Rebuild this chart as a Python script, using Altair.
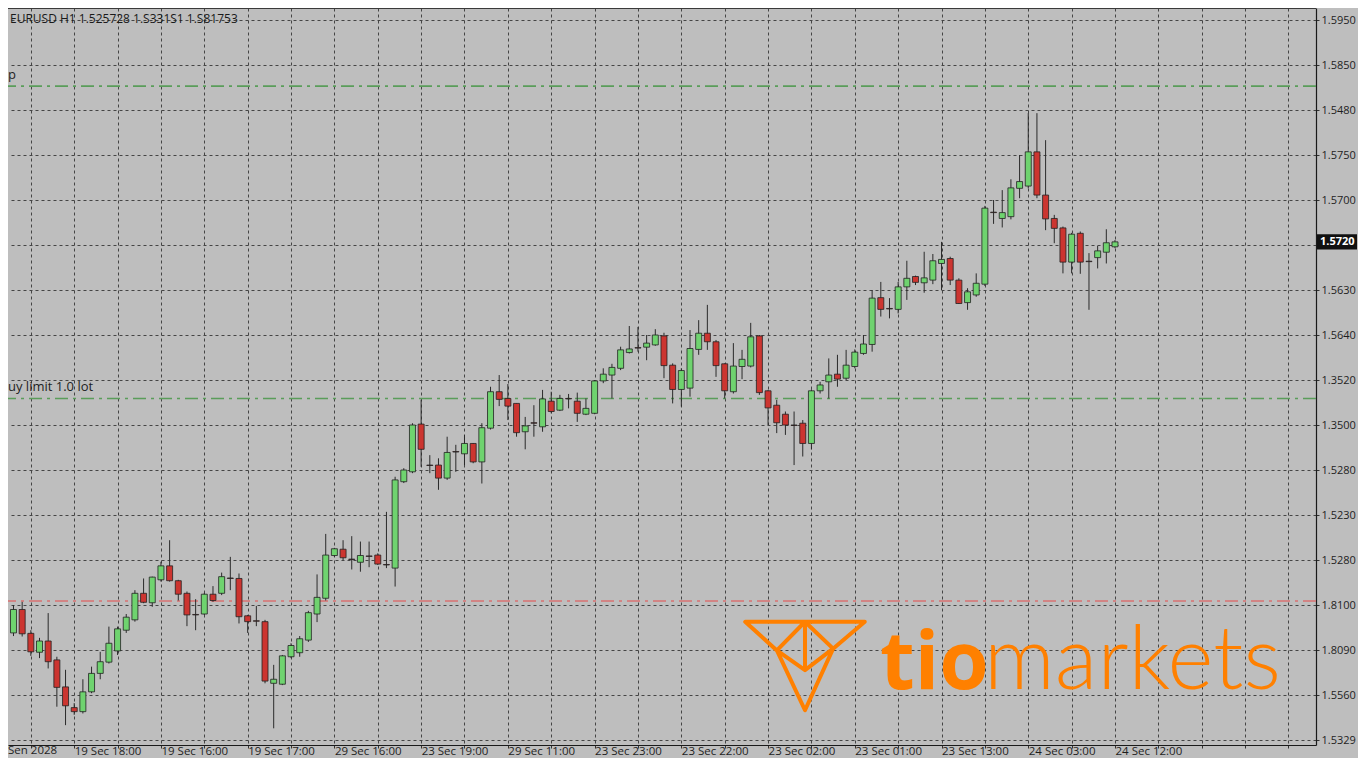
import json
import altair as alt
import pandas as pd

# ---- candle data (price levels in grid units) ----
open_ = [2.38, 2.90, 2.37, 1.95, 2.20, 1.78, 1.18, 0.72, 0.63, 1.07,
         1.48, 1.73, 1.98, 2.44, 2.67, 3.26, 3.05, 3.56, 3.87, 3.54,
         3.26, 2.79, 2.80, 3.24, 3.26, 3.60, 3.59, 2.76, 2.65, 2.63,
         1.26, 1.24, 1.85, 1.94, 2.22, 2.80, 3.15, 4.10, 4.24, 4.02,
         3.95, 4.09, 4.11, 3.90, 3.82, 5.74, 5.96, 7.02, 6.11, 6.11,
         5.82, 6.41, 6.36, 6.59, 6.18, 6.93, 7.74, 7.59, 7.48, 6.85,
         7.05, 6.96, 7.53, 7.33, 7.59, 7.53, 7.24, 7.26, 7.98, 8.11,
         8.26, 8.61, 8.72, 8.73, 8.78, 8.98, 8.33, 7.79, 7.82, 8.68,
         9.04, 8.85, 8.36, 7.74, 8.30, 8.31, 8.98, 7.76, 7.44, 7.24,
         7.00, 7.04, 6.59, 7.76, 7.96, 8.13, 8.04, 8.30, 8.59, 8.79,
         9.83, 9.59, 9.57, 10.07, 10.30, 10.16, 10.22, 10.59, 10.70, 10.22,
         9.72, 9.89, 10.13, 11.73, 11.59, 11.63, 12.26, 12.31, 13.07, 12.11,
         11.59, 11.38, 10.62, 11.26, 10.64, 10.72, 10.84, 10.96]
high = [3.00, 3.07, 2.44, 2.27, 2.82, 1.85, 1.56, 0.82, 1.35, 1.63,
        1.96, 2.52, 2.52, 2.80, 3.33, 3.59, 3.63, 3.96, 4.44, 3.56,
        3.30, 3.13, 3.27, 3.42, 3.72, 4.07, 3.70, 2.78, 2.98, 2.67,
        1.67, 1.89, 2.15, 2.31, 2.87, 3.68, 4.58, 4.27, 4.44, 4.53,
        4.41, 4.41, 4.15, 5.07, 5.85, 6.04, 7.04, 7.56, 6.33, 6.26,
        6.74, 6.56, 6.78, 6.60, 7.04, 7.85, 8.11, 7.91, 7.48, 7.18,
        7.44, 7.78, 7.74, 7.67, 7.69, 7.72, 7.59, 8.00, 8.26, 8.36,
        8.74, 9.20, 9.18, 9.00, 9.13, 9.05, 8.37, 8.26, 9.11, 9.33,
        9.67, 8.89, 8.37, 8.82, 8.67, 9.27, 9.00, 7.78, 7.56, 7.30,
        7.30, 7.11, 7.79, 7.96, 8.48, 8.56, 8.67, 8.68, 9.00, 10.00,
        10.18, 9.82, 10.18, 10.65, 10.32, 10.85, 10.80, 11.07, 10.74, 10.26,
        10.04, 10.37, 11.87, 12.00, 12.22, 12.46, 13.00, 13.93, 13.93, 13.33,
        11.67, 11.41, 11.27, 11.30, 10.82, 10.98, 11.35, 11.11]
low = [2.31, 2.30, 1.87, 1.82, 1.59, 0.74, 0.33, 0.56, 0.59, 1.04,
       1.35, 1.70, 1.89, 2.38, 2.63, 3.04, 2.96, 3.52, 3.52, 3.10,
       2.53, 2.44, 2.78, 3.07, 3.22, 3.33, 2.59, 2.38, 2.53, 1.26,
       0.26, 1.22, 1.82, 1.85, 2.18, 2.62, 3.10, 4.07, 4.00, 3.79,
       3.74, 3.84, 3.89, 3.82, 3.41, 5.71, 5.93, 6.07, 5.93, 5.56,
       5.78, 5.96, 6.11, 6.15, 5.70, 6.90, 7.42, 7.11, 6.74, 6.46,
       6.74, 6.85, 7.26, 7.31, 7.37, 7.07, 7.22, 7.24, 7.93, 7.59,
       8.22, 8.59, 8.63, 8.44, 8.76, 8.04, 7.48, 7.41, 7.63, 8.56,
       8.67, 8.07, 7.59, 7.70, 8.02, 8.28, 7.67, 7.00, 6.82, 6.78,
       6.11, 6.30, 6.46, 7.70, 7.59, 7.85, 8.00, 8.26, 8.56, 8.63,
       9.41, 9.37, 9.48, 9.78, 10.11, 9.94, 10.13, 10.00, 10.11, 9.69,
       9.56, 9.85, 10.09, 11.47, 11.39, 11.57, 12.04, 12.26, 12.04, 11.33,
       11.04, 10.37, 10.37, 10.36, 9.56, 10.48, 10.59, 10.93]
close = [2.90, 2.36, 1.96, 2.20, 1.74, 1.17, 0.76, 0.63, 1.07, 1.48,
         1.74, 2.15, 2.47, 2.73, 3.26, 3.06, 3.62, 3.87, 3.54, 3.24,
         2.78, 2.78, 3.24, 3.10, 3.63, 3.59, 2.74, 2.63, 2.64, 1.31,
         1.35, 1.87, 2.10, 2.25, 2.83, 3.17, 4.11, 4.25, 4.05, 4.01,
         4.10, 4.08, 3.91, 3.89, 5.78, 6.00, 7.00, 6.46, 6.10, 5.82,
         6.39, 6.40, 6.59, 6.18, 6.94, 7.74, 7.57, 7.42, 6.83, 6.98,
         7.04, 7.58, 7.30, 7.59, 7.58, 7.26, 7.37, 7.98, 8.13, 8.28,
         8.67, 8.69, 8.71, 8.82, 9.00, 8.32, 7.79, 8.21, 8.70, 9.04,
         8.85, 8.32, 7.76, 8.31, 8.46, 8.96, 7.72, 7.38, 7.05, 7.00,
         6.99, 6.59, 7.76, 7.89, 8.11, 8.02, 8.33, 8.62, 8.80, 9.82,
         9.57, 9.58, 10.07, 10.26, 10.17, 10.27, 10.65, 10.68, 10.22, 9.70,
         9.96, 10.15, 11.82, 11.72, 11.72, 12.27, 12.41, 13.07, 12.11, 11.58,
         11.37, 10.62, 11.24, 10.62, 10.63, 10.87, 11.05, 11.07]

# ---- axis labels ----
y_tick_labels = ["1.5329", "1.5560", "1.8090", "1.8100", "1.5280", "1.5230",
                 "1.5280", "1.3500", "1.3520", "1.5640", "1.5630", "",
                 "1.5700", "1.5750", "1.5480", "1.5850", "1.5950"]
x_tick_labels = ["19 Sec 18:00", "19 Sec 16:00", "19 Sec 17:00", "29 Sec 16:00",
                 "23 Sec 19:00", "29 Sec 11:00", "23 Sec 23:00", "23 Sec 22:00",
                 "23 Sec 02:00", "23 Sec 01:00", "23 Sec 13:00", "24 Sec 03:00",
                 "24 Sec 12:00"]
first_label = "Sen 2028"
header_text = "EURUSD H1  1.525728 1.S331S1 1.S81753"
current_price_text = "1.5720"

# ---- order levels ----
level_values = [14.53, 7.59, 3.09]
level_labels = ["p", "uy limit 1.0 lot", ""]
level_colors = ["#5a9d5a", "#5a9d5a", "#d97272"]

W, H = 1308, 737
BG = "#bebebe"
FONT = "Open Sans"
PX_PER_BAR = 8.74
X0 = -0.057

df = pd.DataFrame({"k": list(range(len(open_))), "open": open_, "high": high,
                   "low": low, "close": close})
levels = pd.DataFrame({"v": level_values, "label": level_labels, "c": level_colors})
last = pd.DataFrame({"v": [close[-1]], "t": [current_price_text]})
one = pd.DataFrame({"a": [0]})

xscale = alt.Scale(domain=[X0, X0 + W / PX_PER_BAR], nice=False, zero=False)
yscale = alt.Scale(domain=[-0.111, 16.267], nice=False, zero=False)

xexpr = ("((datum.value - 7) % 10 == 0 && datum.value >= 7) ? ("
         + json.dumps(x_tick_labels) + "[(datum.value - 7) / 10] || '') : ''")
yexpr = json.dumps(y_tick_labels) + "[round(datum.value)] || ''"

xaxis = alt.Axis(values=list(range(2, 150, 5)), labelExpr=xexpr, title=None,
                 grid=True, gridDash=[3, 3], gridColor="#454545", gridWidth=1,
                 domainColor="#1a1a1a", domainWidth=1.2, tickColor="#333",
                 tickSize=3, labelAlign="left", labelBaseline="alphabetic",
                 labelPadding=6, labelFont=FONT, labelFontSize=11.5,
                 labelColor="#1e1e1e", labelOverlap=False, labelFlush=False,
                 orient="bottom")
yaxis = alt.Axis(values=list(range(0, 17)), labelExpr=yexpr, title=None,
                 grid=True, gridDash=[3, 3], gridColor="#454545", gridWidth=1,
                 domainColor="#1a1a1a", domainWidth=1.2, tickColor="#333",
                 tickSize=3, labelPadding=2, labelFont=FONT, labelFontSize=11,
                 labelColor="#1e1e1e", labelOverlap=False, labelFlush=False,
                 orient="right")

X = alt.X("k:Q", scale=xscale, axis=xaxis)

level_rules = alt.Chart(levels).mark_rule(strokeWidth=1.6, strokeDash=[13, 5, 3, 5]).encode(
    y=alt.Y("v:Q", scale=yscale, axis=yaxis),
    color=alt.Color("c:N", scale=None),
)
level_text = alt.Chart(levels).mark_text(align="left", baseline="middle", dy=-11,
                                          font=FONT, fontSize=13, color="#1e1e1e").encode(
    x=alt.value(0), y=alt.Y("v:Q", scale=yscale, axis=yaxis), text="label:N")

wicks = alt.Chart(df).mark_rule(color="#2a2a2a", strokeWidth=1).encode(
    x=X, y=alt.Y("low:Q", scale=yscale, axis=yaxis), y2="high:Q")

bodies = alt.Chart(df).transform_calculate(
    d="datum.close >= datum.open ? 'up' : 'down'"
).mark_bar(size=6, stroke="#222", strokeWidth=0.8).encode(
    x=X, y=alt.Y("open:Q", scale=yscale, axis=yaxis), y2="close:Q",
    color=alt.Color("d:N", scale=alt.Scale(domain=["up", "down"],
                                           range=["#6fd36f", "#cc3530"]), legend=None),
)

top_border = alt.Chart(one).mark_rule(color="#3a3a3a", strokeWidth=1).encode(
    x=alt.value(0), x2=alt.value(W), y=alt.value(0.5))

header = alt.Chart(one).mark_text(align="left", baseline="middle", font=FONT,
                                  fontSize=12, color="#1a1a1a").encode(
    x=alt.value(2), y=alt.value(11), text=alt.value(header_text))

first_lbl = alt.Chart(one).mark_text(align="left", baseline="alphabetic", font=FONT,
                                     fontSize=11.5, color="#1e1e1e").encode(
    x=alt.value(0), y=alt.value(H + 9), text=alt.value(first_label))

price_box = alt.Chart(last).transform_calculate(
    v1="datum.v - 0.17", v2="datum.v + 0.17"
).mark_rect(color="#111").encode(
    x=alt.value(W + 1), x2=alt.value(W + 41),
    y=alt.Y("v1:Q", scale=yscale, axis=yaxis), y2="v2:Q")
price_text = alt.Chart(last).mark_text(align="left", baseline="middle", font=FONT,
                                       fontSize=11, fontWeight="bold", color="white").encode(
    x=alt.value(W + 4), y=alt.Y("v:Q", scale=yscale, axis=yaxis), text="t:N")

# ---- watermark logo ----
ORANGE = "#ff8000"
icon_path = ("M-1,-0.74 L1,-0.74 L0.47,-0.29 L0,0.74 L-0.47,-0.26 Z "
             "M0,-0.74 L-0.47,-0.26 L0,0.07 L0.47,-0.29 Z M0,-0.74 L0,0.07")
icon = alt.Chart(one).mark_point(shape=icon_path, size=14300, filled=False,
                                 stroke=ORANGE, strokeWidth=4, strokeJoin="round",
                                 opacity=1).encode(
    x=alt.value(797), y=alt.value(658))
tio = alt.Chart(one).mark_text(align="left", baseline="alphabetic", font=FONT,
                               fontSize=80, fontWeight="bold", color=ORANGE).encode(
    x=alt.value(872), y=alt.value(681), text=alt.value("tio"))
markets = alt.Chart(one).mark_text(align="left", baseline="alphabetic", font="Lato",
                                   fontSize=88, fontWeight=300, color=ORANGE).encode(
    x=alt.value(976), y=alt.value(681), text=alt.value("markets"))

chart = alt.layer(
    level_rules, wicks, bodies, level_text, top_border, header, first_lbl,
    icon, tio, markets, price_box, price_text
).properties(
    width=W, height=H,
    padding={"left": 0, "top": 0, "right": 1350 - W, "bottom": 13},
    autosize=alt.AutoSizeParams(type="none"),
    background=BG,
).configure_view(fill=BG, stroke=None)

chart.save("out.html", embed_options={"renderer": "svg", "actions": False})
